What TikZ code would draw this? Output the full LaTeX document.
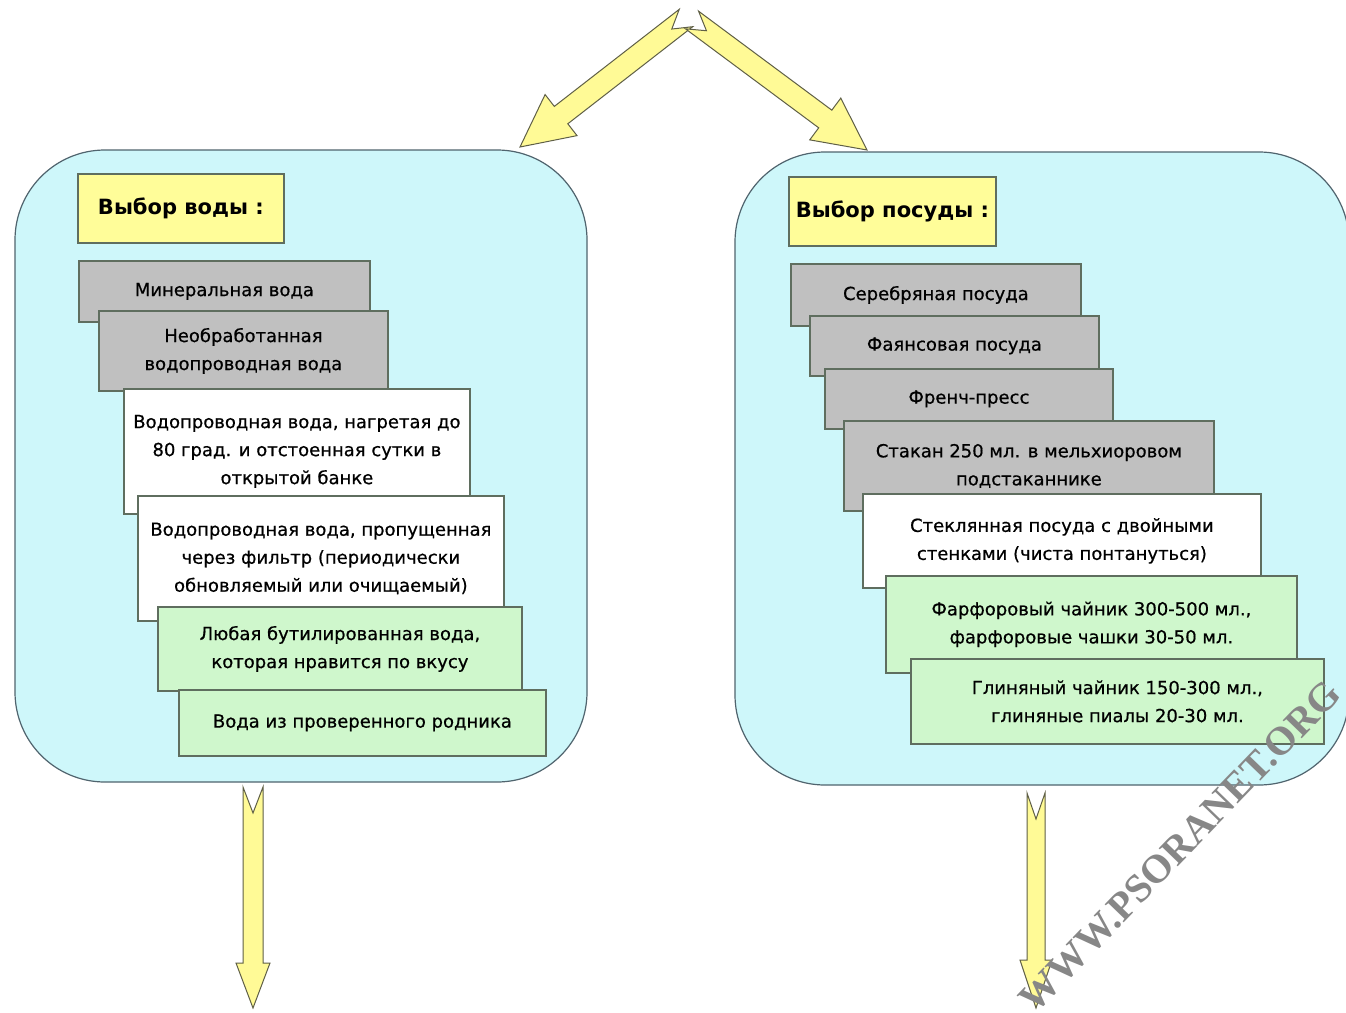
\documentclass[tikz,border=0pt]{standalone}
\usepackage{fontspec}
\setmainfont{DejaVu Sans}
\newfontfamily\cardfont{DejaVu Sans}[FakeBold=0.6]
\newfontfamily\wmfont{Liberation Serif}
\usetikzlibrary{calc}
\definecolor{panelfill}{RGB}{206,247,250}
\definecolor{panelline}{RGB}{80,100,110}
\definecolor{ttlfill}{RGB}{255,253,153}
\definecolor{grayfill}{RGB}{192,192,192}
\definecolor{greenfill}{RGB}{207,247,204}
\definecolor{boxline}{RGB}{95,110,95}
\definecolor{arrfill}{RGB}{255,250,150}
\definecolor{arrline}{RGB}{95,95,70}
\definecolor{wmgray}{RGB}{135,135,135}

\tikzset{
  panel/.style={fill=panelfill, draw=panelline, line width=1.2pt, rounded corners=90pt},
  card/.style={draw=boxline, line width=1.8pt, anchor=north west, align=center,
    inner sep=0pt, font=\cardfont\fontsize{18}{28}\selectfont},
  ttl/.style={card, fill=ttlfill, font=\fontsize{21}{26}\selectfont\bfseries},
  graycard/.style={card, fill=grayfill},
  whitecard/.style={card, fill=white},
  greencard/.style={card, fill=greenfill},
  yarrow/.style={fill=arrfill, draw=arrline, line width=1pt, line join=miter},
  wmark/.style={text=wmgray, font=\wmfont\fontsize{40}{40}\selectfont\bfseries, rotate=46},
}

% #1 tail, #2 tip, #3 half shaft width, #4 half head width, #5 head length, #6 notch depth
\newcommand\yblockarrow[6]{%
  \path ($(#2)!#5!(#1)$) coordinate (babase);
  \draw[yarrow] ($(#1)!#3!90:(#2)$) -- ($(#1)!#6!(#2)$) -- ($(#1)!#3!-90:(#2)$)
    -- ($(babase)!#3!-90:(#2)$) -- ($(babase)!#4!-90:(#2)$) -- (#2)
    -- ($(babase)!#4!90:(#2)$) -- ($(babase)!#3!90:(#2)$) -- cycle;
}

\begin{document}
\begin{tikzpicture}[x=1pt,y=-1pt]
\useasboundingbox[fill=white] (0,0) rectangle (1346,1012);

% panels
\draw[panel] (15,150) rectangle (587,782);
\draw[panel] (735,152) rectangle (1349,785);
\node[inner sep=0pt] (lp) at (301,466) {};
\node[inner sep=0pt] (rp) at (1042,468) {};

% connectors (block arrows)
\coordinate (apexL) at (686,18);
\coordinate (apexR) at (692,20);
\coordinate (tipL) at (520,147);
\coordinate (tipR) at (867,150);
\coordinate (outLtail) at (253,787);
\coordinate (outLtip) at (253,1008);
\coordinate (outRtail) at (1036,793);
\coordinate (outRtip) at (1036,1008);
\yblockarrow{apexL}{tipL}{11pt}{26pt}{52pt}{18pt}
\yblockarrow{apexR}{tipR}{11pt}{26pt}{52pt}{18pt}
\yblockarrow{outLtail}{outLtip}{10pt}{17pt}{45pt}{26pt}
\yblockarrow{outRtail}{outRtip}{9pt}{16pt}{48pt}{26pt}

% left column
\node[ttl, minimum width=206pt, minimum height=69pt] (wt) at (77,173) {Выбор воды :};
\node[graycard, minimum width=291pt, minimum height=61pt] (w1) at (78,260) {Минеральная вода};
\node[graycard, minimum width=289pt, minimum height=80pt] (w2) at (98,310) {Необработанная\\водопроводная вода};
\node[whitecard, minimum width=346pt, minimum height=125pt] (w3) at (123,388) {Водопроводная вода, нагретая до\\80 град. и отстоенная сутки в\\открытой банке};
\node[whitecard, minimum width=366pt, minimum height=125pt] (w4) at (137,495) {Водопроводная вода, пропущенная\\через фильтр (периодически\\обновляемый или очищаемый)};
\node[greencard, minimum width=364pt, minimum height=84pt] (w5) at (157,606) {Любая бутилированная вода,\\которая нравится по вкусу};
\node[greencard, minimum width=367pt, minimum height=66pt] (w6) at (178,689) {Вода из проверенного родника};

% right column
\node[ttl, minimum width=207pt, minimum height=69pt] (pt) at (788,176) {Выбор посуды :};
\node[graycard, minimum width=290pt, minimum height=62pt] (p1) at (790,263) {Серебряная посуда};
\node[graycard, minimum width=289pt, minimum height=60pt] (p2) at (809,315) {Фаянсовая посуда};
\node[graycard, minimum width=288pt, minimum height=60pt] (p3) at (824,368) {Френч-пресс};
\node[graycard, minimum width=370pt, minimum height=90pt] (p4) at (843,420) {Стакан 250 мл. в мельхиоровом\\подстаканнике};
\node[whitecard, minimum width=398pt, minimum height=94pt] (p5) at (862,493) {Стеклянная посуда с двойными\\стенками (чиста понтануться)};
\node[greencard, minimum width=411pt, minimum height=97pt] (p6) at (885,575) {Фарфоровый чайник 300-500 мл.,\\фарфоровые чашки 30-50 мл.};
\node[greencard, minimum width=413pt, minimum height=85pt] (p7) at (910,658) {Глиняный чайник 150-300 мл.,\\глиняные пиалы 20-30 мл.};

% watermark
\node[wmark] (wm) at (1180,846) {WWW.PSORANET.ORG};
\end{tikzpicture}
\end{document}
